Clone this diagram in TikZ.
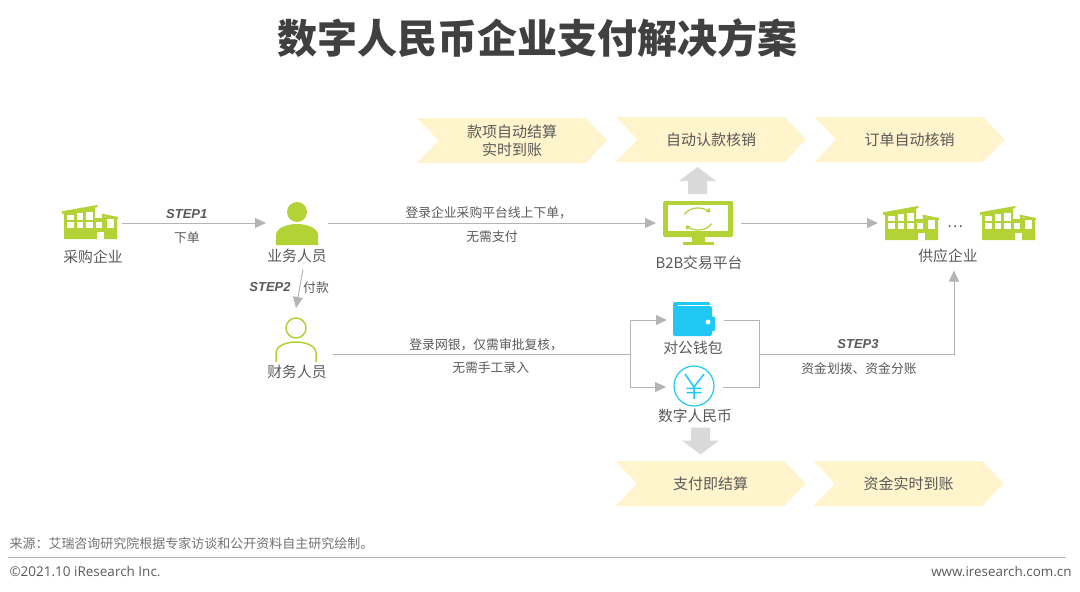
\documentclass[tikz,border=0pt]{standalone}
\usepackage{fontspec}
\setmainfont{Noto Sans CJK SC}
\newfontfamily\latinfont{Liberation Sans}
\newfontfamily\footfont{Open Sans}
\usetikzlibrary{arrows.meta,calc,positioning,shapes.symbols}
\definecolor{leaf}{HTML}{B2D235}
\definecolor{sky}{HTML}{1FC8F5}
\definecolor{cream}{HTML}{FFF4CC}
\definecolor{ink}{HTML}{595959}
\definecolor{wire}{HTML}{B4B4B4}
\definecolor{bigarrow}{HTML}{D9D9D9}
\tikzset{
	iconbox/.style={minimum width=#1,inner sep=0pt,outer sep=0pt},
	caption/.style={text=ink,font=\fontsize{14.8}{17}\selectfont,inner sep=0pt},
	flowtext/.style={text=ink,font=\fontsize{12.8}{15}\selectfont,inner sep=0pt},
	steptext/.style={text=ink,font=\latinfont\bfseries\itshape\fontsize{13}{15}\selectfont,inner sep=0pt},
	chevron/.style={shape=signal,signal to=east,signal from=west,signal pointer angle=93,fill=cream,
		minimum width=190pt,minimum height=45pt,inner sep=0pt,outer sep=0pt,text=ink,align=center,
		font=\fontsize{15}{19}\selectfont},
	pics/bigarrow/.style={code={
		\fill[bigarrow] (0,-13.5) -- (18.5,0.5) -- (9.5,0.5) -- (9.5,13.5) -- (-9.5,13.5) -- (-9.5,0.5) -- (-18.5,0.5) -- cycle;
	}},
	pics/factory/.style={code={
		\fill[leaf] (2,8) -- (33,2) -- (33,13) -- (40,13) -- (40,11) -- (55,13) -- (55,34) -- (2,34) -- cycle;
		\fill[leaf] (0,6.3) -- (35,0) -- (35.6,2) -- (0,9) -- cycle;
		\fill[leaf] (39.5,8.6) -- (56,12) -- (56,14) -- (39.5,10.6) -- cycle;
		\foreach \xa/\ya in {5/9.5,14.5/8,24/6.5}
			\fill[white] (\xa,\ya) rectangle ++(6.8,15-\ya);
		\foreach \xa in {5,14.5,24,33.5}
			\fill[white] (\xa,17) rectangle ++(6.8,5.5);
		\fill[white] (45,13.5) rectangle (52,22.5);
		\fill[white] (35,27) rectangle (42,34);
	}},
	pics/personsolid/.style={code={
		\fill[leaf] (0,0) circle (10);
		\fill[leaf] (-21,33) -- (-21,23) .. controls (-21,16) and (-10,12) .. (0,12)
			.. controls (10,12) and (21,16) .. (21,23) -- (21,33) -- cycle;
	}},
	pics/personline/.style={code={
		\draw[leaf,line width=1.5pt] (0,0) circle (10);
		\draw[leaf,line width=1.5pt] (-20,34) -- (-20,25) .. controls (-20,18) and (-10,14) .. (0,14)
			.. controls (10,14) and (20,18) .. (20,25) -- (20,34);
	}},
	pics/monitor/.style={code={
		\fill[leaf,rounded corners=1.5pt] (0,0) rectangle (70,36);
		\fill[white] (5,4) rectangle (65,30);
		\fill[leaf] (29,36) rectangle (42,41);
		\fill[leaf] (20,41) rectangle (51,44);
		\draw[leaf,line width=1.2pt,-{Triangle[length=4pt,width=5pt]}] (35,18)+(-155:15 and 11) arc (-155:-35:15 and 11);
		\draw[leaf,line width=1.2pt,-{Triangle[length=4pt,width=5pt]}] (35,18)+(25:15 and 11) arc (25:145:15 and 11);
	}},
	pics/wallet/.style={code={
		\fill[sky,rounded corners=2pt] (0,0) rectangle (37,6);
		\fill[sky,rounded corners=2pt] (0,4) rectangle (39,34);
		\fill[white] (5,2.6) rectangle (39.5,4.2);
		\fill[sky,rounded corners=1pt] (36,14.5) rectangle (42,29);
		\fill[white] (35,20) circle (2.4);
	}},
	pics/yencoin/.style={code={
		\draw[sky,line width=1.2pt] (0,0) circle (20);
		\draw[sky,line width=1.5pt] (-9,-12) -- (0,1) -- (10,-12) (0,1) -- (0,13)
			(-7.5,2.3) -- (7.5,2.3) (-7.5,6.7) -- (7.5,6.7);
	}}
}

\begin{document}
\begin{tikzpicture}[x=1pt,y=-1pt,>={Triangle[length=11pt,width=10pt]},line width=1pt]
	\useasboundingbox (0,0) rectangle (1080,592);
	\node[text=black!75,font=\bfseries\fontsize{40}{46}\selectfont,inner sep=0pt] (title) at (537,38) {数字人民币企业支付解决方案};

	% icon boxes, the connectors stop at their borders
	\node[iconbox=64pt,minimum height=34pt] (buyer) at (90,223) {};
	\node[iconbox=62pt,minimum height=46pt] (sales) at (297,223) {};
	\node[iconbox=71pt,minimum height=92pt] (finance) at (297.5,354) {};
	\node[iconbox=85pt,minimum height=44pt] (platform) at (698.5,223) {};
	\node[iconbox=162pt,minimum height=34pt] (supplier) at (959,223) {};
	\node[iconbox=57pt,minimum height=34pt] (wallet) at (695.5,320) {};
	\node[iconbox=57pt,minimum height=40pt] (yen) at (694.5,387) {};
	\coordinate (split) at (630.5,354);
	\coordinate (merge) at (759,354);

	\pic at (62,205) {factory};
	\pic at (883,206) {factory};
	\pic at (980,206) {factory};
	\pic at (297,212) {personsolid};
	\pic at (296,328) {personline};
	\pic at (663,201) {monitor};
	\pic at (673,302) {wallet};
	\pic at (694,386) {yencoin};
	\pic at (697.5,180.5) {bigarrow};
	\pic[rotate=180] at (700.5,441) {bigarrow};

	\node[caption] (buyerlabel) at (93,257) {采购企业};
	\node[caption,minimum height=26pt] (saleslabel) at (297,256) {业务人员};
	\node[caption] (financelabel) at (297,372) {财务人员};
	\node[caption] (platformlabel) at (699,262.5) {B2B交易平台};
	\node[caption,minimum height=28pt] (supplierlabel) at (948,256) {供应企业};
	\node[caption] (walletlabel) at (693,348) {对公钱包};
	\node[caption] (yenlabel) at (695,416) {数字人民币};
	\node[text=ink,font=\fontsize{15}{15}\selectfont,inner sep=0pt] (dots) at (955,227) {…};

	\node[chevron] (settle) at (512,140.5) {款项自动结算\\[-1pt]实时到账};
	\node[chevron] (verify) at (711,139.5) {自动认款核销};
	\node[chevron] (order) at (909.5,139.5) {订单自动核销};
	\node[chevron] (instant) at (710.5,483.5) {支付即结算};
	\node[chevron] (arrive) at (908.5,483.5) {资金实时到账};

	\path[->,color=wire]
		(buyer) edge node[steptext,above=4pt,pos=.45] {STEP1} node[flowtext,below=8pt,pos=.45] {下单} (sales)
		(sales) edge node[flowtext,above=4pt,pos=.49] {登录企业采购平台线上下单，} node[flowtext,below=7pt] {无需支付} (platform)
		(platform) edge (supplier)
		([xshift=6pt]saleslabel.south) edge ([xshift=-1.5pt]finance.north);
	\draw[wire] (finance.east) -- node[flowtext,above=3pt,pos=.515] {登录网银，仅需审批复核，} node[flowtext,below=7pt,pos=.53] {无需手工录入} (split);
	\draw[->,wire] (split) |- (wallet.west);
	\draw[->,wire] (split) |- (yen.west);
	\draw[wire] (wallet.east) -| (merge);
	\draw[wire] (yen.east) -| (merge);
	\draw[->,wire] (merge) -| ([xshift=6pt]supplierlabel.south);

	\node[steptext] (step2) at (270,287) {STEP2};
	\node[flowtext] (pay) at (316,288) {付款};
	\node[steptext] (step3) at (858,344) {STEP3};
	\node[flowtext] (funds) at (859,369) {资金划拨、资金分账};

	\node[text=ink!85,font=\fontsize{13}{15}\selectfont,inner sep=0pt,anchor=west] (source) at (9,544) {来源：艾瑞咨询研究院根据专家访谈和公开资料自主研究绘制。};
	\node[text=ink,font=\footfont\fontsize{13.5}{15}\selectfont,inner sep=0pt,anchor=west] (copyright) at (9,571.5) {©2021.10 iResearch Inc.};
	\node[text=ink,font=\footfont\fontsize{13.4}{15}\selectfont,inner sep=0pt,anchor=east] (website) at (1072,571.5) {www.iresearch.com.cn};
	\coordinate (ruleleft) at (8,557);
	\coordinate (ruleright) at (1066,557);
	\draw[wire] (ruleleft) -- (ruleright);
\end{tikzpicture}
\end{document}
